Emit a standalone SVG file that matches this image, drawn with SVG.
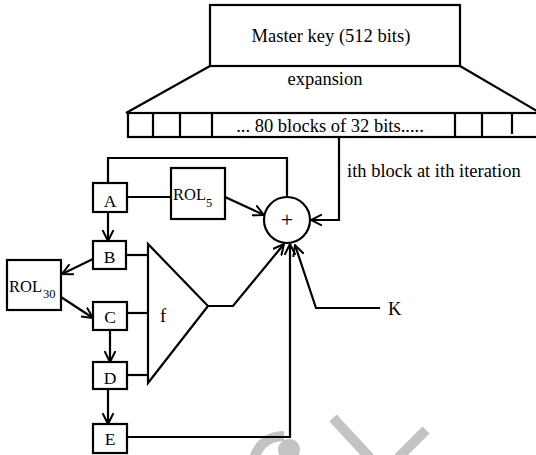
<svg xmlns="http://www.w3.org/2000/svg" width="536" height="455" viewBox="0 0 536 455">
<style>
.ln{fill:none;stroke:#000;stroke-width:2.2;stroke-linejoin:miter}
.bx{fill:#fff;stroke:#000;stroke-width:2.2}
.t{font-family:"Liberation Serif","Times New Roman",serif;font-size:18.5px;fill:#000}
.l{font-family:"Liberation Serif","Times New Roman",serif;font-size:17.5px;fill:#000}
.r{font-family:"Liberation Serif","Times New Roman",serif;font-size:16.5px;fill:#000}
.s{font-family:"Liberation Serif","Times New Roman",serif;font-size:12.5px;fill:#000}
.wm{fill:none;stroke:#c3c3c3;stroke-width:10;stroke-linecap:butt}
</style>
<defs>
<marker id="ar" viewBox="0 0 12 12" refX="11" refY="6" markerWidth="12" markerHeight="12" markerUnits="userSpaceOnUse" orient="auto">
<path d="M0,0.5 L11,6 L0,11.5" fill="none" stroke="#000" stroke-width="2"/>
</marker>
</defs>
<rect width="536" height="455" fill="#fff"/>
<g id="watermark">
<path class="wm" d="M254,458 Q262,436 284,436"/>
<circle cx="289" cy="450" r="11" fill="#c3c3c3"/>
<path class="wm" d="M333,418 L370,458" stroke-width="8"/>
<path class="wm" d="M426,430 L398,458"/>
</g>
<g id="master-key">
<rect class="bx" x="210" y="5" width="250" height="61"/>
<text class="t" x="331" y="42" text-anchor="middle">Master key (512 bits)</text>
</g>
<g id="expansion">
<polyline class="ln" points="126,113 210,66"/>
<polyline class="ln" points="460,66 537,111"/>
<text class="t" x="325" y="85" text-anchor="middle">expansion</text>
</g>
<g id="blocks">
<rect class="bx" x="128" y="113" width="412" height="24"/>
<path class="ln" d="M153,113V137M180,113V137M212,113V137M455,113V137M482,113V137M512,113V134"/>
<text class="t" x="330" y="132" text-anchor="middle">... 80 blocks of 32 bits.....</text>
</g>
<g id="connectors">
<path class="ln" d="M339,137 V220 H311" marker-end="url(#ar)"/>
<path class="ln" d="M108,183 V158 H287 V197"/>
<path class="ln" d="M127,197 H171"/>
<path class="ln" d="M225,197 L264,215" marker-end="url(#ar)"/>
<path class="ln" d="M108,212 V241" marker-end="url(#ar)"/>
<path class="ln" d="M126,255 H148"/>
<path class="ln" d="M93,259 L62,274" marker-end="url(#ar)"/>
<path class="ln" d="M61,297 L93,318" marker-end="url(#ar)"/>
<path class="ln" d="M127,313 H148"/>
<path class="ln" d="M110,330 V362" marker-end="url(#ar)"/>
<path class="ln" d="M127,375 H148"/>
<path class="ln" d="M108,389 V424" marker-end="url(#ar)"/>
<path class="ln" d="M127,437 H290 V244" marker-end="url(#ar)"/>
<path class="ln" d="M208,306 H233 L284,244" marker-end="url(#ar)"/>
<path class="ln" d="M380,308 H316 L295,245" marker-end="url(#ar)"/>
</g>
<text class="t" x="347" y="177">ith block at ith iteration</text>
<text class="t" x="388" y="315">K</text>
<g id="xor">
<circle class="bx" cx="287" cy="220" r="23"/>
<text class="t" x="287" y="227" text-anchor="middle" style="font-size:22px">+</text>
</g>
<g id="f">
<polygon class="ln" points="148,244 208,306 148,383"/>
<text class="t" x="160" y="322">f</text>
</g>
<g id="A"><rect class="bx" x="93" y="183" width="34" height="29"/><text class="l" x="110" y="207" text-anchor="middle">A</text></g>
<g id="B"><rect class="bx" x="93" y="241" width="33" height="28"/><text class="l" x="109.5" y="263" text-anchor="middle">B</text></g>
<g id="C"><rect class="bx" x="93" y="302" width="34" height="28"/><text class="l" x="110" y="323" text-anchor="middle">C</text></g>
<g id="D"><rect class="bx" x="93" y="362" width="34" height="27"/><text class="l" x="110" y="384" text-anchor="middle">D</text></g>
<g id="E"><rect class="bx" x="93" y="424" width="34" height="29"/><text class="l" x="110" y="445" text-anchor="middle">E</text></g>
<g id="ROL5"><rect class="bx" x="171" y="168" width="54" height="51"/><text class="r" x="173" y="200">ROL</text><text class="s" x="206" y="207">5</text></g>
<g id="ROL30"><rect class="bx" x="7" y="260" width="54" height="50"/><text class="r" x="9" y="292">ROL</text><text class="s" x="43" y="298">30</text></g>
</svg>
